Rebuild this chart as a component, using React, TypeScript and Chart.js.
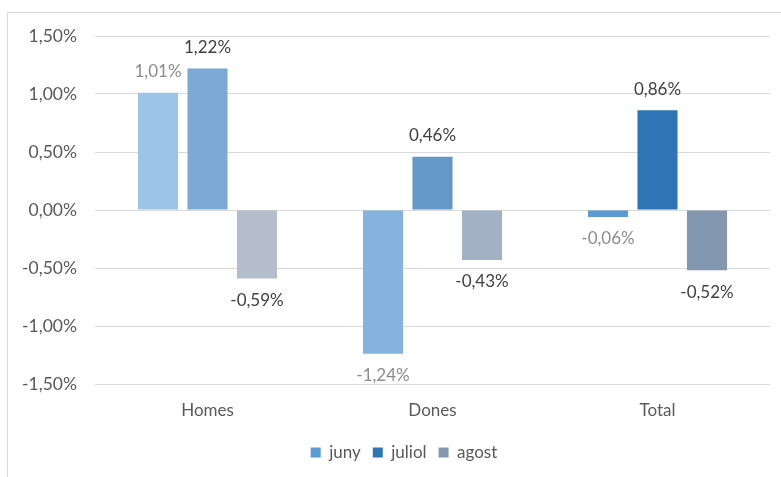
import React, { useEffect, useRef } from "react";
import { Chart, registerables } from "chart.js";

Chart.register(...registerables);

const categories = ["Homes", "Dones", "Total"];
const seriesNames = ["juny", "juliol", "agost"];
const junyValues = [1.01, -1.24, -0.06];
const juliolValues = [1.22, 0.46, 0.86];
const agostValues = [-0.59, -0.43, -0.52];
const yTicks = [-1.5, -1.0, -0.5, 0, 0.5, 1.0, 1.5];

const junyColors = ["#9DC3E6", "#84B3E0", "#5B9BD5"];
const juliolColors = ["#7BAAD4", "#6398C8", "#2E75B6"];
const agostColors = ["#B4BECB", "#A3B1C5", "#8497B0"];
const legendColors = ["#5B9BD5", "#2E75B6", "#8497B0"];
const labelColors = ["#8C8C8C", "#404040", "#404040"];

const FONT = "Lato, 'Open Sans', sans-serif";

const fmt = (v: number) => v.toFixed(2).replace(".", ",") + "%";

const framePlugin = {
  id: "frame",
  beforeDraw(chart: any) {
    const ctx = chart.ctx;
    ctx.save();
    ctx.fillStyle = "#ffffff";
    ctx.fillRect(0, 0, chart.width, chart.height);
    ctx.strokeStyle = "#D9D9D9";
    ctx.lineWidth = 1;
    ctx.beginPath();
    ctx.moveTo(7.5, chart.height);
    ctx.lineTo(7.5, 12.5);
    ctx.lineTo(chart.width, 12.5);
    ctx.stroke();
    ctx.restore();
  },
};

const legendShiftPlugin = {
  id: "legendShift",
  afterLayout(chart: any) {
    const lg = chart.legend;
    if (lg) {
      lg.left += 19;
      lg.right += 19;
    }
  },
};

const labelPlugin = {
  id: "valueLabels",
  afterDatasetsDraw(chart: any) {
    const ctx = chart.ctx;
    ctx.save();
    ctx.font = `17px ${FONT}`;
    ctx.textAlign = "center";
    ctx.textBaseline = "middle";
    chart.data.datasets.forEach((ds: any, di: number) => {
      const meta = chart.getDatasetMeta(di);
      meta.data.forEach((el: any, i: number) => {
        const v = ds.data[i];
        ctx.fillStyle = labelColors[di];
        const y = v >= 0 ? el.y - 21 : el.y + 22;
        ctx.fillText(fmt(v), el.x, y);
      });
    });
    ctx.restore();
  },
};

export default function App() {
  const ref = useRef<HTMLCanvasElement | null>(null);
  useEffect(() => {
    document.body.style.margin = "0";
    const canvas = ref.current!;
    const chart = new Chart(canvas, {
      type: "bar",
      data: {
        labels: categories,
        datasets: [
          { label: seriesNames[0], data: junyValues, backgroundColor: junyColors },
          { label: seriesNames[1], data: juliolValues, backgroundColor: juliolColors },
          { label: seriesNames[2], data: agostValues, backgroundColor: agostColors },
        ],
      },
      options: {
        animation: false,
        responsive: false,
        devicePixelRatio: 1,
        datasets: { bar: { categoryPercentage: 0.66, barPercentage: 0.81 } },
        layout: { padding: { top: 36, right: 11, bottom: 6, left: 0 } },
        plugins: {
          tooltip: { enabled: false },
          legend: {
            position: "bottom",
            labels: {
              boxWidth: 10,
              boxHeight: 10,
              padding: 12,
              color: "#595959",
              font: { family: FONT, size: 17 },
              generateLabels: () =>
                seriesNames.map((n, i) => ({
                  text: n,
                  fillStyle: legendColors[i],
                  strokeStyle: legendColors[i],
                  lineWidth: 0,
                  hidden: false,
                  datasetIndex: i,
                  fontColor: "#595959",
                })),
            },
          },
        },
        scales: {
          x: {
            grid: { display: false, drawTicks: false },
            border: { display: false },
            ticks: { color: "#595959", font: { family: FONT, size: 17 }, padding: 16 },
            afterFit: (s: any) => {
              s.height = 48;
            },
          },
          y: {
            min: -1.5,
            max: 1.5,
            afterBuildTicks: (s: any) => {
              s.ticks = yTicks.map((v) => ({ value: v }));
            },
            grid: { color: "#D9D9D9", drawTicks: false, lineWidth: 1 },
            border: { display: false },
            ticks: {
              color: "#595959",
              font: { family: FONT, size: 17.5 },
              padding: 18,
              callback: (v: any) => fmt(Number(v)),
            },
            afterFit: (s: any) => {
              s.width = 95;
            },
          },
        },
      },
      plugins: [framePlugin, legendShiftPlugin, labelPlugin],
    });
    return () => chart.destroy();
  }, []);
  return <canvas ref={ref} width={781} height={477} style={{ display: "block" }} />;
}
